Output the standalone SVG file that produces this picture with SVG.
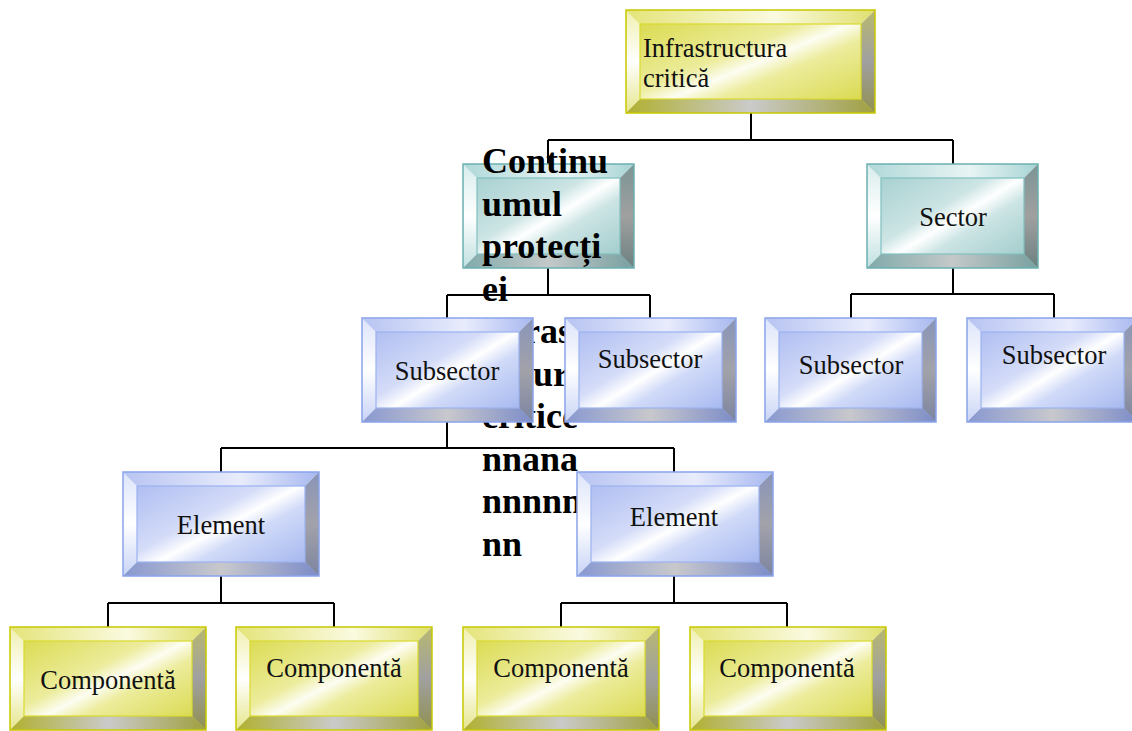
<svg xmlns="http://www.w3.org/2000/svg" xmlns:xlink="http://www.w3.org/1999/xlink" width="1132" height="731" viewBox="0 0 1132 731">
  <style>
    .lbl { font-family: "Liberation Serif", "Times New Roman", serif; font-size: 26.5px; fill: #111; }
    .mid { text-anchor: middle; }
    .over { font-family: "Liberation Serif", "Times New Roman", serif; font-size: 36px; font-weight: bold; fill: #000; }
    .wire { fill: none; stroke: #000; stroke-width: 2; }
  </style>
  <defs>
    <!-- yellow bevel palette -->
    <linearGradient id="yFace" x1="0" y1="0" x2="1" y2="1">
      <stop offset="0" stop-color="#d6d63c"/><stop offset="0.42" stop-color="#ecec9c"/>
      <stop offset="0.52" stop-color="#fdfdf2"/><stop offset="0.62" stop-color="#ecec9c"/>
      <stop offset="1" stop-color="#d4d43a"/>
    </linearGradient>
    <linearGradient id="yTop" x1="0" y1="0" x2="1" y2="0">
      <stop offset="0" stop-color="#e4e47a"/><stop offset="0.6" stop-color="#fafae0"/><stop offset="1" stop-color="#e0e070"/>
    </linearGradient>
    <linearGradient id="yLeft" x1="0" y1="0" x2="0" y2="1">
      <stop offset="0" stop-color="#f0f0b0"/><stop offset="0.5" stop-color="#ffffff"/><stop offset="1" stop-color="#e6e68c"/>
    </linearGradient>
    <linearGradient id="yRight" x1="0" y1="0" x2="0" y2="1">
      <stop offset="0" stop-color="#b8b870"/><stop offset="0.5" stop-color="#a0a0a0"/><stop offset="1" stop-color="#909050"/>
    </linearGradient>
    <linearGradient id="yBot" x1="0" y1="0" x2="1" y2="0">
      <stop offset="0" stop-color="#b0b030"/><stop offset="0.5" stop-color="#cacaca"/><stop offset="1" stop-color="#a0a040"/>
    </linearGradient>
    <!-- blue bevel palette -->
    <linearGradient id="bFace" x1="0" y1="0" x2="1" y2="1">
      <stop offset="0" stop-color="#a4b4f0"/><stop offset="0.42" stop-color="#d4dcf8"/>
      <stop offset="0.52" stop-color="#ffffff"/><stop offset="0.62" stop-color="#d0daf8"/>
      <stop offset="1" stop-color="#98acec"/>
    </linearGradient>
    <linearGradient id="bTop" x1="0" y1="0" x2="1" y2="0">
      <stop offset="0" stop-color="#b8c4f2"/><stop offset="0.6" stop-color="#e8ecfc"/><stop offset="1" stop-color="#a8b8f0"/>
    </linearGradient>
    <linearGradient id="bLeft" x1="0" y1="0" x2="0" y2="1">
      <stop offset="0" stop-color="#dce4fa"/><stop offset="0.5" stop-color="#ffffff"/><stop offset="1" stop-color="#c8d4f6"/>
    </linearGradient>
    <linearGradient id="bRight" x1="0" y1="0" x2="0" y2="1">
      <stop offset="0" stop-color="#8894b8"/><stop offset="0.5" stop-color="#a2a2aa"/><stop offset="1" stop-color="#7c84a0"/>
    </linearGradient>
    <linearGradient id="bBot" x1="0" y1="0" x2="1" y2="0">
      <stop offset="0" stop-color="#8898d0"/><stop offset="0.5" stop-color="#c8c8cc"/><stop offset="1" stop-color="#7c8cc8"/>
    </linearGradient>
    <!-- teal bevel palette -->
    <linearGradient id="tFace" x1="0" y1="0" x2="1" y2="1">
      <stop offset="0" stop-color="#9ccaca"/><stop offset="0.42" stop-color="#cce4e4"/>
      <stop offset="0.52" stop-color="#ffffff"/><stop offset="0.62" stop-color="#cce4e4"/>
      <stop offset="1" stop-color="#94c4c4"/>
    </linearGradient>
    <linearGradient id="tTop" x1="0" y1="0" x2="1" y2="0">
      <stop offset="0" stop-color="#b0d8d8"/><stop offset="0.6" stop-color="#e8f4f4"/><stop offset="1" stop-color="#a8d4d4"/>
    </linearGradient>
    <linearGradient id="tLeft" x1="0" y1="0" x2="0" y2="1">
      <stop offset="0" stop-color="#d8ecec"/><stop offset="0.5" stop-color="#ffffff"/><stop offset="1" stop-color="#c0e0e0"/>
    </linearGradient>
    <linearGradient id="tRight" x1="0" y1="0" x2="0" y2="1">
      <stop offset="0" stop-color="#7c9494"/><stop offset="0.5" stop-color="#a0a0a0"/><stop offset="1" stop-color="#6c8080"/>
    </linearGradient>
    <linearGradient id="tBot" x1="0" y1="0" x2="1" y2="0">
      <stop offset="0" stop-color="#80aaaa"/><stop offset="0.5" stop-color="#c4c8c8"/><stop offset="1" stop-color="#78a0a0"/>
    </linearGradient>

    <!-- bevelled box templates: colour + size -->
    <g id="boxRoot">
      <rect width="249" height="103" fill="url(#yFace)"/>
      <polygon points="0,0 249,0 235,14 14,14" fill="url(#yTop)"/>
      <polygon points="0,0 14,14 14,89 0,103" fill="url(#yLeft)"/>
      <polygon points="249,0 249,103 235,89 235,14" fill="url(#yRight)"/>
      <polygon points="0,103 14,89 235,89 249,103" fill="url(#yBot)"/>
      <rect x="14" y="14" width="221" height="75" fill="none" stroke="#dada30" stroke-width="1.2"/>
      <rect width="249" height="103" fill="none" stroke="#c8c800" stroke-width="1.5"/>
    </g>
    <g id="boxTeal">
      <rect width="171" height="104" fill="url(#tFace)"/>
      <polygon points="0,0 171,0 157,14 14,14" fill="url(#tTop)"/>
      <polygon points="0,0 14,14 14,90 0,104" fill="url(#tLeft)"/>
      <polygon points="171,0 171,104 157,90 157,14" fill="url(#tRight)"/>
      <polygon points="0,104 14,90 157,90 171,104" fill="url(#tBot)"/>
      <rect x="14" y="14" width="143" height="76" fill="none" stroke="#80c0c0" stroke-width="1.2"/>
      <rect width="171" height="104" fill="none" stroke="#6cb0b0" stroke-width="1.5"/>
    </g>
    <g id="boxBlue">
      <rect width="171" height="104" fill="url(#bFace)"/>
      <polygon points="0,0 171,0 157,14 14,14" fill="url(#bTop)"/>
      <polygon points="0,0 14,14 14,90 0,104" fill="url(#bLeft)"/>
      <polygon points="171,0 171,104 157,90 157,14" fill="url(#bRight)"/>
      <polygon points="0,104 14,90 157,90 171,104" fill="url(#bBot)"/>
      <rect x="14" y="14" width="143" height="76" fill="none" stroke="#9cb2f0" stroke-width="1.2"/>
      <rect width="171" height="104" fill="none" stroke="#8aa4ec" stroke-width="1.5"/>
    </g>
    <g id="boxBlueWide">
      <rect width="196" height="104" fill="url(#bFace)"/>
      <polygon points="0,0 196,0 182,14 14,14" fill="url(#bTop)"/>
      <polygon points="0,0 14,14 14,90 0,104" fill="url(#bLeft)"/>
      <polygon points="196,0 196,104 182,90 182,14" fill="url(#bRight)"/>
      <polygon points="0,104 14,90 182,90 196,104" fill="url(#bBot)"/>
      <rect x="14" y="14" width="168" height="76" fill="none" stroke="#9cb2f0" stroke-width="1.2"/>
      <rect width="196" height="104" fill="none" stroke="#8aa4ec" stroke-width="1.5"/>
    </g>
    <g id="boxYellow">
      <rect width="196" height="103" fill="url(#yFace)"/>
      <polygon points="0,0 196,0 182,14 14,14" fill="url(#yTop)"/>
      <polygon points="0,0 14,14 14,89 0,103" fill="url(#yLeft)"/>
      <polygon points="196,0 196,103 182,89 182,14" fill="url(#yRight)"/>
      <polygon points="0,103 14,89 182,89 196,103" fill="url(#yBot)"/>
      <rect x="14" y="14" width="168" height="75" fill="none" stroke="#dada30" stroke-width="1.2"/>
      <rect width="196" height="103" fill="none" stroke="#c8c800" stroke-width="1.5"/>
    </g>
  </defs>

  <rect width="1132" height="731" fill="#ffffff"/>

  <!-- tree connectors (elbow joints) -->
  <g id="connectors" class="wire">
    <path d="M751,113 V140 M548,140 H953 M548,140 V164 M953,140 V165"/>
    <path d="M548,268 V295 M447,295 H650 M447,295 V318 M650,295 V318"/>
    <path d="M953,268 V294 M851,294 H1054 M851,294 V318 M1054,294 V318"/>
    <path d="M447,422 V448 M221,448 H674 M221,448 V472 M674,448 V472"/>
    <path d="M221,576 V603 M108,603 H334 M108,603 V627 M334,603 V627"/>
    <path d="M674,576 V603 M561,603 H787 M561,603 V627 M787,603 V627"/>
  </g>

  <g id="node-infrastructura">
    <use href="#boxRoot" x="626" y="10"/>
    <text class="lbl" x="643" y="57">Infrastructura</text>
    <text class="lbl" x="643" y="87">critică</text>
  </g>

  <!-- label overflows its box; later boxes are painted over it -->
  <g id="node-continuum">
    <use href="#boxTeal" x="463" y="164"/>
    <text class="over">
      <tspan x="482" y="173">Continu</tspan>
      <tspan x="482" y="215.5">umul</tspan>
      <tspan x="482" y="258">protecți</tspan>
      <tspan x="482" y="300.5">ei</tspan>
      <tspan x="482" y="343">infras</tspan>
      <tspan x="533" y="385.5">ur</tspan>
      <tspan x="482" y="428">critice</tspan>
      <tspan x="482" y="470.5">nnana</tspan>
      <tspan x="482" y="513">nnnnn</tspan>
      <tspan x="482" y="555.5">nn</tspan>
    </text>
  </g>

  <g id="node-sector">
    <use href="#boxTeal" x="867" y="164"/>
    <text class="lbl mid" x="953" y="226">Sector</text>
  </g>

  <g id="node-subsector-1">
    <use href="#boxBlue" x="362" y="318"/>
    <text class="lbl mid" x="447" y="380">Subsector</text>
  </g>
  <g id="node-subsector-2">
    <use href="#boxBlue" x="565" y="318"/>
    <text class="lbl mid" x="650" y="368">Subsector</text>
  </g>
  <g id="node-subsector-3">
    <use href="#boxBlue" x="765" y="318"/>
    <text class="lbl mid" x="851" y="374">Subsector</text>
  </g>
  <g id="node-subsector-4">
    <use href="#boxBlue" x="967" y="318"/>
    <text class="lbl mid" x="1054" y="364">Subsector</text>
  </g>

  <g id="node-element-1">
    <use href="#boxBlueWide" x="123" y="472"/>
    <text class="lbl mid" x="221" y="534">Element</text>
  </g>
  <g id="node-element-2">
    <use href="#boxBlueWide" x="577" y="472"/>
    <text class="lbl mid" x="674" y="526">Element</text>
  </g>

  <g id="node-componenta-1">
    <use href="#boxYellow" x="10" y="627"/>
    <text class="lbl mid" x="108" y="689">Componentă</text>
  </g>
  <g id="node-componenta-2">
    <use href="#boxYellow" x="236" y="627"/>
    <text class="lbl mid" x="334" y="677">Componentă</text>
  </g>
  <g id="node-componenta-3">
    <use href="#boxYellow" x="463" y="627"/>
    <text class="lbl mid" x="561" y="677">Componentă</text>
  </g>
  <g id="node-componenta-4">
    <use href="#boxYellow" x="690" y="627"/>
    <text class="lbl mid" x="787" y="677">Componentă</text>
  </g>
</svg>
